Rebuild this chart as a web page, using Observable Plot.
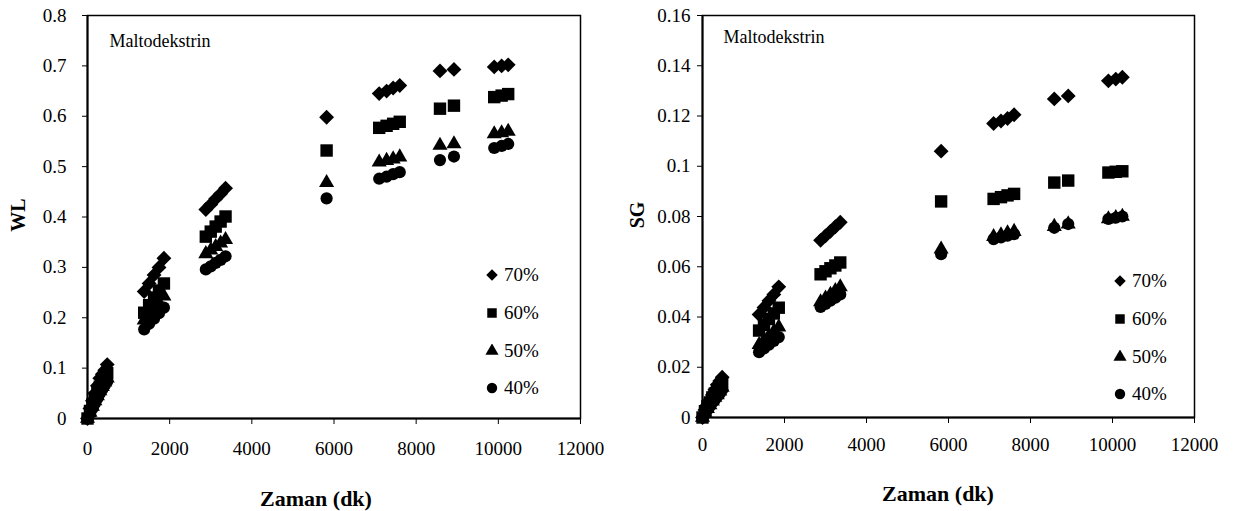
<!DOCTYPE html>
<html><head><meta charset="utf-8">
<script src="https://cdn.jsdelivr.net/npm/d3@7"></script>
<script src="https://cdn.jsdelivr.net/npm/@observablehq/plot@0.6"></script>
<style>
body{margin:0;background:#fff;font-family:"Liberation Serif","Times New Roman",Times,serif;}
#wrap{position:relative;width:1241px;height:511px;overflow:hidden;}
.panel{position:absolute;top:0;}
.panel text{font-family:"Liberation Serif","Times New Roman",Times,serif !important;}
.ttl{position:absolute;font-family:"Liberation Serif","Times New Roman",Times,serif;font-weight:bold;font-size:22px;color:#000;white-space:nowrap;}
.leg{position:absolute;font-family:"Liberation Serif","Times New Roman",Times,serif;font-size:19px;color:#000;display:flex;align-items:center;white-space:nowrap;}
.leg svg{margin-right:5px;}
</style></head>
<body><div id="wrap"></div>
<script>
// shared sampling times (min)
const times = [0, 60, 120, 180, 240, 300, 360, 420, 480,
  1380, 1500, 1620, 1740, 1860,
  2880, 3000, 3120, 3240, 3360,
  5820,
  7100, 7280, 7440, 7600,
  8580, 8920,
  9900, 10080, 10240];

const series = ["70%", "60%", "50%", "40%"];
const symbols = ["diamond2", "square", "triangle", "circle"];
const radii = [6.7, 7.0, 5.6, 6.1];

// WL values
const wl70 = [0, 0.020, 0.035, 0.050, 0.065, 0.080, 0.088, 0.096, 0.107,
  0.252, 0.268, 0.285, 0.300, 0.318,
  0.415, 0.425, 0.436, 0.446, 0.457,
  0.598,
  0.645, 0.650, 0.656, 0.661,
  0.690, 0.693,
  0.698, 0.700, 0.702];
const wl60 = [0, 0.015, 0.028, 0.040, 0.052, 0.063, 0.073, 0.082, 0.090,
  0.210, 0.225, 0.240, 0.254, 0.268,
  0.361, 0.371, 0.381, 0.391, 0.401,
  0.532,
  0.577, 0.581, 0.585, 0.589,
  0.615, 0.621,
  0.638, 0.641, 0.644];
const wl50 = [0, 0.012, 0.024, 0.035, 0.045, 0.055, 0.063, 0.072, 0.080,
  0.195, 0.207, 0.218, 0.230, 0.243,
  0.327, 0.334, 0.341, 0.348, 0.355,
  0.468,
  0.509, 0.512, 0.515, 0.519,
  0.542, 0.545,
  0.565, 0.567, 0.570];
const wl40 = [0, 0.010, 0.020, 0.030, 0.040, 0.050, 0.058, 0.066, 0.074,
  0.177, 0.188, 0.198, 0.209, 0.220,
  0.296, 0.302, 0.309, 0.315, 0.322,
  0.437,
  0.476, 0.480, 0.485, 0.489,
  0.513, 0.520,
  0.537, 0.541, 0.545];

// SG values
const sg70 = [0, 0.003, 0.005, 0.007, 0.009, 0.011, 0.013, 0.0145, 0.016,
  0.041, 0.0438, 0.0465, 0.049, 0.052,
  0.0705, 0.0723, 0.0741, 0.0759, 0.0777,
  0.106,
  0.117, 0.118, 0.119, 0.1205,
  0.1268, 0.128,
  0.134, 0.1347, 0.1354];
const sg60 = [0, 0.0025, 0.0045, 0.006, 0.008, 0.0095, 0.011, 0.012, 0.0135,
  0.0346, 0.0369, 0.0392, 0.0414, 0.0437,
  0.057, 0.0582, 0.0594, 0.0605, 0.0617,
  0.086,
  0.087, 0.0877, 0.0884, 0.089,
  0.0935, 0.0943,
  0.0975, 0.0978, 0.098];
const sg50 = [0, 0.002, 0.0035, 0.005, 0.0065, 0.008, 0.009, 0.0105, 0.012,
  0.029, 0.0308, 0.0325, 0.0342, 0.036,
  0.046, 0.0475, 0.049, 0.0505, 0.052,
  0.067,
  0.072, 0.0727, 0.0734, 0.074,
  0.076, 0.077,
  0.079, 0.0795, 0.080];
const sg40 = [0, 0.0018, 0.003, 0.0045, 0.006, 0.007, 0.0085, 0.0095, 0.011,
  0.026, 0.0275, 0.029, 0.0305, 0.032,
  0.044, 0.0452, 0.0465, 0.0477, 0.049,
  0.065,
  0.071, 0.0717, 0.0724, 0.073,
  0.0755, 0.077,
  0.079, 0.0795, 0.080];

const xTicks = [0, 2000, 4000, 6000, 8000, 10000, 12000];
const wlTicks = [0, 0.1, 0.2, 0.3, 0.4, 0.5, 0.6, 0.7, 0.8];
const sgTicks = [0, 0.02, 0.04, 0.06, 0.08, 0.1, 0.12, 0.14, 0.16];
const noteText = "Maltodekstrin";
const xTitle = "Zaman (dk)";

const serif = '"Liberation Serif", "Times New Roman", Times, serif';

function makeRows(arrs) {
  return arrs.map((vals, i) => vals.map((v, j) => ({t: times[j], v, s: series[i]})));
}

function panel(cfg) {
  const rows = makeRows(cfg.values);
  return Plot.plot({
    width: cfg.width, height: 511,
    marginLeft: cfg.ml, marginRight: cfg.mr, marginTop: 15, marginBottom: cfg.mb,
    style: {fontFamily: serif, fontSize: "19px", color: "black", background: "white", overflow: "visible"},
    x: {domain: [0, 12000], ticks: xTicks, tickFormat: d => String(d), tickSize: 6, tickPadding: cfg.xPad, label: null},
    y: {domain: [0, cfg.ymax], ticks: cfg.yTicks, tickFormat: d => String(d), tickSize: 5, tickPadding: cfg.yPad, label: null},
    marks: [
      Plot.frame({stroke: "black", strokeWidth: 1.5}),
      Plot.ruleX([0], {stroke: "black", strokeWidth: 2}),
      Plot.ruleY([0], {stroke: "black", strokeWidth: 2}),
      ...series.map((s, i) => Plot.dot(rows[i], {x: "t", y: "v", symbol: symbols[i], r: radii[i], fill: "black", stroke: "none"})),
      Plot.text([noteText], {frameAnchor: "top-left", dx: cfg.noteDx, dy: cfg.noteDy, textAnchor: "start", lineAnchor: "middle", fontSize: 18, fill: "black"})
    ]
  });
}

const wrap = document.getElementById("wrap");

const cfgs = [
  {left: 0, width: 620, ml: 87, mr: 40, mb: 93, ymax: 0.8, yTicks: wlTicks, values: [wl70, wl60, wl50, wl40],
   xPad: 17, yPad: 16, noteDx: 22, noteDy: 26, ylab: "WL", ylabX: 18, ylabY: 215, xlabCx: 316, xlabY: 499, legX: 492, legY: 275},
  {left: 620, width: 621, ml: 82, mr: 47, mb: 94, ymax: 0.16, yTicks: sgTicks, values: [sg70, sg60, sg50, sg40],
   xPad: 14, yPad: 7, noteDx: 21, noteDy: 22, ylab: "SG", ylabX: 637, ylabY: 215, xlabCx: 938, xlabY: 494, legX: 1120, legY: 281}
];

cfgs.forEach(cfg => {
  const p = panel(cfg);
  p.classList.add("panel");
  p.style.left = cfg.left + "px";
  wrap.appendChild(p);

  const yl = document.createElement("div");
  yl.className = "ttl";
  yl.style.fontSize = "20px";
  yl.textContent = cfg.ylab;
  yl.style.left = cfg.ylabX + "px";
  yl.style.top = cfg.ylabY + "px";
  yl.style.transform = "translate(-50%,-50%) rotate(-90deg)";
  wrap.appendChild(yl);

  const xl = document.createElement("div");
  xl.className = "ttl";
  xl.textContent = xTitle;
  xl.style.left = cfg.xlabCx + "px";
  xl.style.top = cfg.xlabY + "px";
  xl.style.transform = "translate(-50%,-50%)";
  wrap.appendChild(xl);

  series.forEach((s, i) => {
    const d = document.createElement("div");
    d.className = "leg";
    d.style.left = (cfg.legX - 7) + "px";
    d.style.top = (cfg.legY + i * 37.8 - 11) + "px";
    d.style.height = "22px";
    const sym = [d3.symbolDiamond2, d3.symbolSquare, d3.symbolTriangle, d3.symbolCircle][i];
    const size = [85, 90, 75, 85][i];
    const path = d3.symbol(sym, size)();
    d.innerHTML = `<svg width="14" height="14" viewBox="-7 -7 14 14"><path d="${path}" fill="black"/></svg><span>${s}</span>`;
    wrap.appendChild(d);
  });
});
</script>
</body></html>
